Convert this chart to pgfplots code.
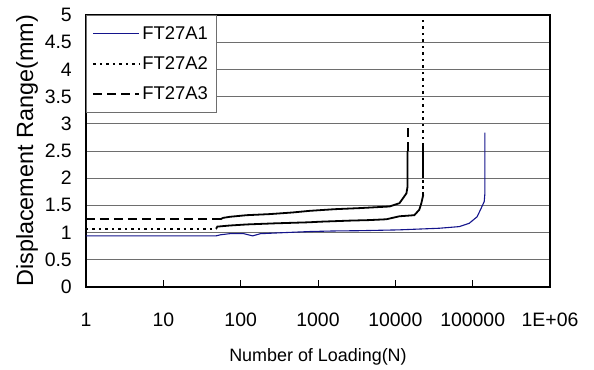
\documentclass[border=0pt]{standalone}
\usepackage{fontspec}
\setmainfont{Liberation Sans}
\usepackage{pgfplots}
\pgfplotsset{compat=1.18}
\definecolor{navyline}{RGB}{20,20,140}
\definecolor{gridgray}{RGB}{110,110,110}
\begin{document}
\begin{tikzpicture}
\path[use as bounding box] (-86bp,-83bp) rectangle (508bp,287bp);
\begin{axis}[
  scale only axis,
  width=464bp, height=272bp,
  xmode=log,
  xmin=1, xmax=1000000,
  ymin=0, ymax=5,
  xtick={1,10,100,1000,10000,100000,1000000},
  xticklabels={1,10,100,1000,10000,100000,1E+06},
  ytick={0,0.5,1,1.5,2,2.5,3,3.5,4,4.5,5},
  yticklabels={0,0.5,1,1.5,2,2.5,3,3.5,4,4.5,5},
  xminorticks=false,
  xtick pos=bottom, ytick pos=left,
  tick align=inside,
  major tick length=7bp,
  xtick style={black, line width=0.8bp},
  ytick style={draw=none},
  ymajorgrids,
  major grid style={gridgray, line width=1bp},
  axis line style={line width=2.2bp},
  ticklabel style={font=\fontsize{19.5}{22}\selectfont},
  yticklabel style={anchor=east, inner sep=0pt, xshift=-14bp},
  xticklabel style={anchor=center, inner sep=0pt, yshift=-33bp},
  xlabel={Number of Loading(N)},
  ylabel={Displacement Range(mm)},
  every axis x label/.style={at={(axis description cs:0.5,-0.2574)}, anchor=center, font=\fontsize{18}{21}\selectfont},
  every axis y label/.style={at={(axis description cs:-0.1142,0)}, anchor=base west, rotate=90, inner sep=0pt, font=\fontsize{23.5}{27}\selectfont},
  legend style={at={(axis description cs:0,1)}, anchor=north west, draw=gridgray, line width=0.8bp, fill=white,
    font=\fontsize{18.5}{21}\selectfont, inner xsep=6bp, inner ysep=9bp, row sep=12bp, cells={anchor=west}},
  legend image code/.code={\draw[#1] (0bp,0bp) -- (46bp,0bp);},
]
% FT27A1
\addplot[navyline, line width=1.1bp] coordinates {
(1,0.94) (48,0.94) (55,0.96) (72,0.98) (110,0.98) (143,0.94) (180,0.98) (370,1.00)
(800,1.02) (1600,1.03) (3400,1.035) (11000,1.05) (37000,1.08) (67000,1.11)
(90000,1.17) (114000,1.29) (129000,1.45) (141000,1.57) (143600,1.70) (143600,2.84)
};
\addlegendentry{FT27A1}
% FT27A2 (flat start, dotted)
\addplot[black, line width=2bp, dash pattern=on 2.5bp off 4bp] coordinates {
(1,1.07) (48,1.07)
};
\addlegendentry{FT27A2}
% FT27A3 (flat start, dashed)
\addplot[black, line width=2bp, dash pattern=on 9bp off 5bp] coordinates {
(1,1.245) (55,1.245)
};
\addlegendentry{FT27A3}
% FT27A2 remaining
\addplot[black, line width=1.8bp, forget plot] coordinates {
(48,1.07) (50,1.11) (72,1.13) (120,1.15) (275,1.17) (780,1.19) (1050,1.20)
(2550,1.22) (4600,1.23) (7650,1.245) (11300,1.30) (17600,1.32) (20400,1.42)
(21700,1.54) (23000,1.70)
};
\addplot[black, line width=2bp, dash pattern=on 3bp off 3bp, forget plot] coordinates {
(23000,1.70) (23000,2.00)
};
\addplot[black, line width=2bp, forget plot] coordinates {
(23000,2.00) (23000,2.60)
};
\addplot[black, line width=2bp, dash pattern=on 2.5bp off 4bp, forget plot] coordinates {
(23000,2.60) (23000,4.90)
};
% FT27A3 remaining
\addplot[black, line width=1.8bp, forget plot] coordinates {
(55,1.245) (59,1.27) (72,1.29) (119,1.32) (237,1.34) (470,1.37) (780,1.40)
(1630,1.43) (3430,1.45) (8400,1.48) (11300,1.54) (13900,1.72) (14400,1.85) (14400,2.50)
};
\addplot[black, line width=2bp, dash pattern=on 9bp off 5bp, forget plot] coordinates {
(14400,2.50) (14400,3.00)
};
\end{axis}
\end{tikzpicture}
\end{document}
